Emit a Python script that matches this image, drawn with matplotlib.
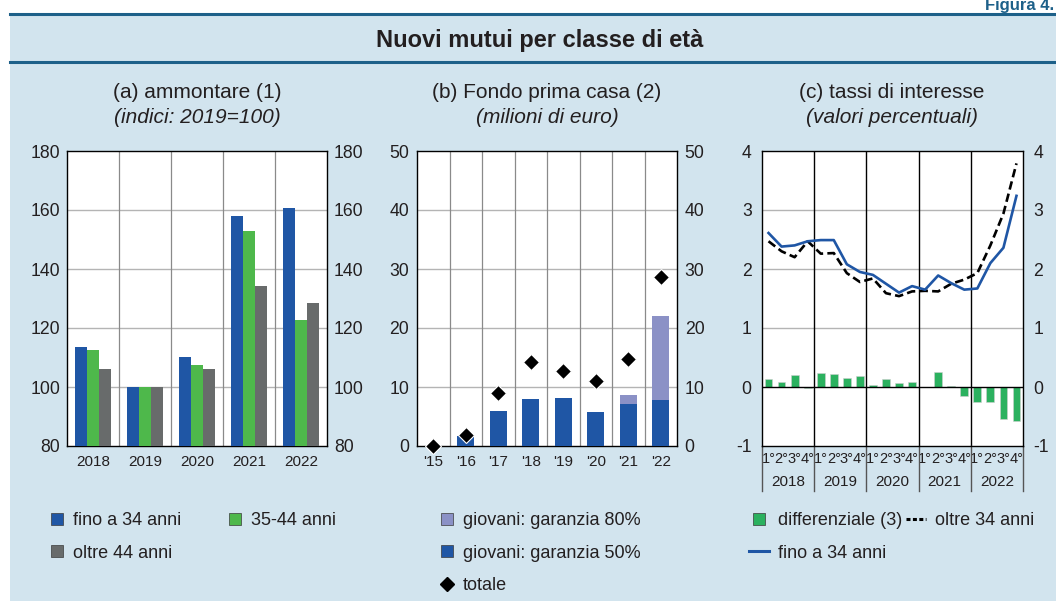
import matplotlib
matplotlib.use('Agg')
import matplotlib.pyplot as plt
from matplotlib.lines import Line2D
from matplotlib.patches import Rectangle
import matplotlib.transforms as mtransforms
import numpy as np

plt.rcParams['font.family'] = ['Liberation Sans', 'DejaVu Sans']

# ---------------- data ----------------
years_a = ['2018', '2019', '2020', '2021', '2022']
a_fino34 = [113.6, 100.0, 110.2, 157.8, 160.8]
a_35_44 = [112.6, 100.0, 107.5, 153.0, 122.7]
a_oltre44 = [106.1, 100.0, 106.1, 134.1, 128.5]

years_b = ["'15", "'16", "'17", "'18", "'19", "'20", "'21", "'22"]
b_gar50 = [0.0, 1.75, 5.87, 7.9, 8.07, 5.7, 7.05, 7.73]
b_gar80 = [0.0, 0.0, 0.0, 0.0, 0.0, 0.0, 1.58, 14.28]
b_totale = [0.0, 1.9, 8.97, 14.3, 12.7, 11.1, 14.7, 28.7]

quarters = ['1°', '2°', '3°', '4°']
years_c = ['2018', '2019', '2020', '2021', '2022']
c_fino34 = [2.61, 2.38, 2.40, 2.47, 2.49, 2.49, 2.08, 1.95, 1.90, 1.75,
            1.60, 1.71, 1.65, 1.89, 1.76, 1.65, 1.67, 2.10, 2.36, 3.24]
c_oltre34 = [2.47, 2.30, 2.20, 2.47, 2.26, 2.27, 1.93, 1.78, 1.84, 1.59,
             1.54, 1.62, 1.63, 1.62, 1.75, 1.82, 1.93, 2.40, 2.94, 3.79]
c_diff = [0.14, 0.09, 0.20, -0.02, 0.235, 0.22, 0.15, 0.18, 0.04, 0.13,
          0.06, 0.09, -0.005, 0.26, 0.015, -0.16, -0.25, -0.25, -0.55, -0.58]

# ---------------- styles ----------------
BG = '#d2e4ee'
DARK = '#1d6089'
TXT = '#231f20'
BLUE = '#1f56a5'
GREEN = '#4eb84b'
GREY = '#686b6b'
PURPLE = '#8b91c6'
DGREEN = '#2bb15f'
HGRID = '#b4b4b4'
VGRID = '#8a8a8a'

W, H = 1056, 601
fig = plt.figure(figsize=(W / 100, H / 100), dpi=100)
fig.patch.set_facecolor('white')


def fx(x):
    return x / W


def fy(y):
    return 1 - y / H


fig.add_artist(Rectangle((fx(10), 0), fx(W) - fx(10), fy(14), transform=fig.transFigure,
                         facecolor=BG, edgecolor='none', zorder=0))
fig.add_artist(Line2D([fx(10), 1], [fy(14), fy(14)], transform=fig.transFigure,
                      color=DARK, lw=2.2))
fig.add_artist(Line2D([fx(10), 1], [fy(62), fy(62)], transform=fig.transFigure,
                      color=DARK, lw=2.2))
fig.text(fx(1054), fy(10), 'Figura 4.', color=DARK, fontsize=12, fontweight='bold',
         ha='right', va='baseline')
fig.text(fx(540), fy(40), 'Nuovi mutui per classe di età', color=TXT, fontsize=17,
         fontweight='bold', ha='center', va='center')


def px_axes(l, t, r, b):
    return fig.add_axes([fx(l), fy(b), fx(r) - fx(l), fy(t) - fy(b)])


def subtitle(xc, l1, l2):
    fig.text(fx(xc), fy(93), l1, color=TXT, fontsize=15, ha='center', va='center')
    fig.text(fx(xc), fy(117), l2, color=TXT, fontsize=15, ha='center', va='center',
             style='italic')


def style_axes(ax, pad):
    for s in ax.spines.values():
        s.set_color('black')
        s.set_linewidth(1.0)
    ax.tick_params(axis='y', length=0, labelsize=12.7, labelright=True, pad=pad,
                   colors=TXT)
    ax.tick_params(axis='x', length=0, labelsize=11, pad=6.5, colors=TXT)
    ax.set_facecolor('white')


# ---------------- panel (a) ----------------
axa = px_axes(67, 151, 327, 446)
xa = np.arange(len(years_a))
bw = 0.225
axa.bar(xa - bw, a_fino34, bw, color=BLUE, zorder=3, label='fino a 34 anni')
axa.bar(xa, a_35_44, bw, color=GREEN, zorder=3, label='35-44 anni')
axa.bar(xa + bw, a_oltre44, bw, color=GREY, zorder=3, label='oltre 44 anni')
axa.set_ylim(80, 180)
axa.set_xlim(-0.5, len(years_a) - 0.5)
axa.set_yticks([80, 100, 120, 140, 160, 180])
axa.set_xticks(xa)
axa.set_xticklabels(years_a)
for v in [100, 120, 140, 160]:
    axa.axhline(v, color=HGRID, lw=1.0, zorder=1)
for v in xa[:-1] + 0.5:
    axa.axvline(v, color=VGRID, lw=0.9, zorder=1)
style_axes(axa, 5)
subtitle(197, '(a) ammontare (1)', '(indici: 2019=100)')

# ---------------- panel (b) ----------------
axb = px_axes(417, 151, 677, 446)
xb = np.arange(len(years_b))
axb.bar(xb, b_gar50, 0.53, color=BLUE, zorder=3)
axb.bar(xb, b_gar80, 0.53, bottom=b_gar50, color=PURPLE, zorder=3)
axb.plot(xb, b_totale, linestyle='None', marker='D', markersize=8, color='black',
         markeredgecolor='white', markeredgewidth=0.8, zorder=5, clip_on=False)
axb.set_ylim(0, 50)
axb.set_xlim(-0.5, len(years_b) - 0.5)
axb.set_yticks([0, 10, 20, 30, 40, 50])
axb.set_xticks(xb)
axb.set_xticklabels(years_b)
for v in [10, 20, 30, 40]:
    axb.axhline(v, color=HGRID, lw=1.0, zorder=1)
for v in xb[:-1] + 0.5:
    axb.axvline(v, color=VGRID, lw=0.9, zorder=1)
style_axes(axb, 5.5)
subtitle(547, '(b) Fondo prima casa (2)', '(milioni di euro)')

# ---------------- panel (c) ----------------
axc = px_axes(762, 151, 1023, 446)
nq = len(c_fino34)
xc = np.arange(nq)
axc.bar(xc, c_diff, 0.6, color=DGREEN, edgecolor='#cfcfcf', linewidth=0.4, zorder=3)
axc.plot(xc, c_oltre34, color='black', lw=1.9, dashes=(3.2, 1.6), zorder=4)
axc.plot(xc, c_fino34, color=BLUE, lw=1.9, zorder=5)
axc.set_ylim(-1, 4)
axc.set_xlim(-0.5, nq - 0.5)
axc.set_yticks([-1, 0, 1, 2, 3, 4])
axc.set_yticklabels(['-1', '0', '1', '2', '3', '4'])
axc.axhline(0, color='black', lw=1.0, zorder=4)
for v in [1, 2, 3]:
    axc.axhline(v, color=HGRID, lw=1.0, zorder=1)
for k in range(1, len(years_c)):
    axc.axvline(4 * k - 0.5, color='black', lw=1.0, zorder=2)
axc.set_xticks(xc)
axc.set_xticklabels(quarters * len(years_c))
style_axes(axc, 7.5)
axc.tick_params(axis='x', labelsize=10.5, pad=4.5)
trans = mtransforms.blended_transform_factory(axc.transData, axc.transAxes)
for k in range(len(years_c) + 1):
    axc.plot([4 * k - 0.5, 4 * k - 0.5], [0, -0.153], transform=trans, color='#555555',
             lw=1.0, clip_on=False)
for k, yl in enumerate(years_c):
    axc.text(4 * k + 1.5, -0.122, yl, transform=trans, ha='center', va='center',
             fontsize=11, color=TXT)
subtitle(892, '(c) tassi di interesse', '(valori percentuali)')

# ---------------- legends ----------------
def sq(color):
    return Line2D([], [], linestyle='None', marker='s', markersize=9, color=color,
                  markeredgecolor='#3a3a3a', markeredgewidth=0.5)

leg_kw = dict(frameon=False, fontsize=13, borderpad=0, labelcolor=TXT,
              handletextpad=0.5, labelspacing=0.86, borderaxespad=0)

fig.legend([sq(BLUE), sq(GREY), sq(GREEN)],
           ['fino a 34 anni', 'oltre 44 anni', '35-44 anni'],
           loc='upper left', bbox_to_anchor=(fx(50), fy(512)), ncol=2,
           handlelength=0.75, columnspacing=2.65, **leg_kw)

fig.legend([sq(PURPLE), sq(BLUE),
            Line2D([], [], linestyle='None', marker='D', markersize=7, color='black')],
           ['giovani: garanzia 80%', 'giovani: garanzia 50%', 'totale'],
           loc='upper left', bbox_to_anchor=(fx(440), fy(512)), ncol=1,
           handlelength=0.75, **leg_kw)

fig.legend([sq(DGREEN), Line2D([], [], color=BLUE, lw=2.2),
            Line2D([], [], color='black', lw=2.2, dashes=(1.3, 0.8))],
           ['differenziale (3)', 'fino a 34 anni', 'oltre 34 anni'],
           loc='upper left', bbox_to_anchor=(fx(749), fy(512)), ncol=2,
           handlelength=1.1, columnspacing=0.2, **leg_kw)

fig.savefig('out.png', dpi=100, facecolor=fig.get_facecolor())
